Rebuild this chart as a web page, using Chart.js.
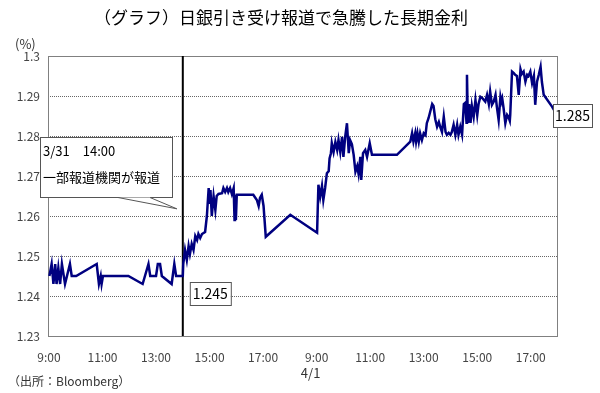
<!DOCTYPE html>
<html lang="ja">
<head>
<meta charset="UTF-8">
<title>長期金利</title>
<script src="https://cdn.jsdelivr.net/npm/chart.js@4/dist/chart.umd.min.js"></script>
<style>
    body { margin: 0; background: #fff; overflow: hidden; }
    #wrap { width: 600px; height: 393px; }
</style>
</head>
<body>
<div id="wrap"><canvas id="myChart" width="600" height="393"></canvas></div>
<script>
    // 3/31 (day 1)
    const day1Times = ['9:01','9:06','9:10','9:14','9:17','9:21','9:25','9:29','9:36','9:47','9:51','10:01',
        '10:47','10:52','10:56','10:58','11:01','11:58','12:30','12:43','12:47','13:00','13:04','13:09','13:13',
        '13:35','13:41','13:45','14:00','14:01','14:05','14:09','14:13','14:16','14:20','14:24','14:28','14:32',
        '14:35','14:39','14:43','14:50','14:54','14:58','15:00','15:02','15:05','15:09','15:13','15:16','15:20',
        '15:28','15:31','15:35','15:39','15:42','15:46','15:50','15:54','15:56','15:57','15:59','16:01','16:38',
        '16:46','16:50','16:53','16:57','17:01','17:06','18:01'];
    const day1Yields = [1.245,1.248,1.243,1.248,1.243,1.247,1.243,1.248,1.243,1.248,1.245,1.245,
        1.248,1.243,1.245,1.243,1.245,1.245,1.243,1.248,1.245,1.245,1.248,1.248,1.245,
        1.243,1.248,1.245,1.245,1.248,1.2515,1.249,1.2525,1.2505,1.253,1.2515,1.255,1.254,
        1.2555,1.2545,1.2555,1.256,1.26,1.267,1.263,1.2665,1.26,1.265,1.2615,1.265,1.2655,
        1.2657,1.267,1.266,1.267,1.266,1.267,1.2655,1.267,1.259,1.2653,1.259,1.2653,1.2653,
        1.264,1.2625,1.2645,1.2653,1.2625,1.2548,1.2603];

    // 4/1 (day 2)
    const day2Times = ['9:01','9:04','9:08','9:12','9:15','9:19','9:23','9:27','9:29','9:32','9:34','9:38',
        '9:42','9:46','9:49','9:53','9:57','10:00','10:04','10:08','10:12','10:15','10:19','10:23','10:27',
        '10:31','10:34','10:38','10:40','10:44','10:49','10:53','10:59','11:04','12:00','12:30','12:34','12:37',
        '12:41','12:43','12:46','12:49','12:52','12:56','13:00','13:04','13:07','13:11','13:19','13:22','13:26',
        '13:30','13:34','13:37','13:41','13:45','13:49','13:52','13:56','14:00','14:03','14:07','14:11','14:15',
        '14:18','14:22','14:26','14:30','14:33','14:36','14:37','14:39','14:42','14:45','14:48','14:52','14:56',
        '15:00','15:03','15:07','15:11','15:18','15:22','15:26','15:29','15:33','15:37','15:41','15:44','15:48',
        '15:52','15:54','15:56','15:59','16:03','16:07','16:10','16:13','16:14','16:18','16:22','16:25','16:29',
        '16:33','16:37','16:40','16:44','16:48','16:52','16:55','16:59','17:03','17:07','17:10','17:14','17:18',
        '17:22','17:25','17:29','17:48','17:52'];
    const day2Yields = [1.2558,1.2678,1.2648,1.2675,1.264,1.267,1.2707,1.2712,1.2744,1.2757,1.2782,1.276,
        1.2785,1.2765,1.279,1.276,1.2798,1.2748,1.2798,1.2832,1.2757,1.279,1.278,1.2753,1.2711,
        1.2725,1.2705,1.2748,1.269,1.2757,1.2765,1.2748,1.2782,1.2753,1.2753,1.2786,1.2807,1.2786,
        1.2807,1.2786,1.2807,1.2786,1.2807,1.279,1.2807,1.2802,1.2832,1.2845,1.288,1.2875,1.2842,
        1.2823,1.2835,1.2823,1.281,1.2848,1.281,1.2803,1.2808,1.2803,1.281,1.2828,1.2803,1.2828,
        1.2803,1.2823,1.2803,1.288,1.2883,1.2833,1.2953,1.2833,1.288,1.2833,1.2875,1.2848,1.289,
        1.2852,1.288,1.2898,1.2895,1.2886,1.2903,1.288,1.2911,1.2878,1.2886,1.2903,1.2873,1.284,
        1.2898,1.2886,1.2894,1.287,1.2832,1.2853,1.2848,1.2838,1.2853,1.2961,1.2957,1.2953,1.295,
        1.2903,1.2967,1.2955,1.2961,1.2936,1.2953,1.295,1.2961,1.2932,1.295,1.2878,1.2936,1.2953,
        1.2973,1.2935,1.2903,1.2873,1.2865];

    const xTickLabels = ['9:00','11:00','13:00','15:00','17:00','9:00','11:00','13:00','15:00','17:00'];
    const yTicks = [1.23,1.24,1.25,1.26,1.27,1.28,1.29,1.3];

    // overnight gap is squeezed: day 2 is drawn 10 hours after day 1
    const DAY2_SHIFT = 10;
    function toHour(t, shift) {
        const p = t.split(':');
        return +p[0] + p[1] / 60 + shift;
    }

    const points = [];
    day1Times.forEach((t, i) => points.push({ x: toHour(t, 0), y: day1Yields[i] }));
    day2Times.forEach((t, i) => points.push({ x: toHour(t, DAY2_SHIFT), y: day2Yields[i] }));

    const jp = '"Noto Sans CJK JP", "Noto Sans", sans-serif';

    function box(ctx, x, y, w, h) {
        ctx.fillStyle = '#fff';
        ctx.fillRect(x, y, w, h);
        ctx.strokeStyle = '#555';
        ctx.lineWidth = 1;
        ctx.strokeRect(x + 0.5, y + 0.5, w, h);
    }

    const decor = {
        id: 'decor',
        beforeDatasetsDraw(chart) {
            const { ctx, chartArea: a } = chart;
            ctx.save();
            ctx.strokeStyle = '#808080';
            ctx.lineWidth = 1;
            ctx.strokeRect(a.left + 0.5, a.top + 0.5, a.right - a.left, a.bottom - a.top);
            // report time 3/31 14:00
            const vx = chart.scales.x.getPixelForValue(toHour('14:00', 0));
            ctx.strokeStyle = '#000';
            ctx.lineWidth = 2;
            ctx.beginPath();
            ctx.moveTo(vx, a.top);
            ctx.lineTo(vx, a.bottom);
            ctx.stroke();
            ctx.restore();
        },
        afterDraw(chart) {
            const { ctx, chartArea: a } = chart;
            const xs = chart.scales.x, ys = chart.scales.y;
            ctx.save();
            ctx.fillStyle = '#000';
            ctx.textBaseline = 'middle';
            ctx.textAlign = 'center';
            ctx.font = '17px ' + jp;
            ctx.fillText('（グラフ）日銀引き受け報道で急騰した長期金利', 281, 18);

            ctx.font = '13px ' + jp;
            ctx.fillStyle = '#333';
            ctx.textAlign = 'left';
            ctx.fillText('(%)', 15, 44);
            ctx.font = '12px ' + jp;
            ctx.fillText('（出所：Bloomberg）', 8, 381);
            ctx.textAlign = 'center';
            ctx.font = '13px ' + jp;
            ctx.fillText('4/1', xs.getPixelForValue(toHour('9:00', DAY2_SHIFT)) - 6, 373);

            // callout
            const vx = xs.getPixelForValue(toHour('14:00', 0));
            box(ctx, 40, 137, 132, 60);
            ctx.beginPath();
            ctx.moveTo(118, 197.5);
            ctx.lineTo(vx - 6, ys.getPixelForValue(1.2618));
            ctx.lineTo(150, 197.5);
            ctx.closePath();
            ctx.fillStyle = '#fff';
            ctx.fill();
            ctx.strokeStyle = '#555';
            ctx.beginPath();
            ctx.moveTo(118, 197.5);
            ctx.lineTo(vx - 6, ys.getPixelForValue(1.2618));
            ctx.lineTo(150, 197.5);
            ctx.stroke();
            ctx.fillStyle = '#000';
            ctx.textAlign = 'left';
            ctx.font = '13px ' + jp;
            ctx.fillText('3/31　14:00', 43, 151);
            ctx.fillText('一部報道機関が報道', 43, 177);

            // value labels
            ctx.font = '14px ' + jp;
            const y0 = ys.getPixelForValue(1.245);
            box(ctx, vx + 7, y0 + 6, 41, 23);
            ctx.fillStyle = '#000';
            ctx.textAlign = 'center';
            ctx.fillText('1.245', vx + 27.5, y0 + 18);
            const y1 = ys.getPixelForValue(1.285);
            box(ctx, a.right - 4, y1 - 12, 39, 23);
            ctx.fillStyle = '#000';
            ctx.fillText('1.285', a.right + 15.5, y1);
            ctx.restore();
        }
    };

    const ctx = document.getElementById('myChart').getContext('2d');
    const myChart = new Chart(ctx, {
        type: 'line',
        data: {
            datasets: [{
                data: points,
                borderColor: '#000080',
                borderWidth: 2.5,
                pointRadius: 0,
                tension: 0,
                fill: false
            }]
        },
        options: {
            responsive: false,
            animation: false,
            events: [],
            layout: { padding: { top: 56, right: 43, left: 0, bottom: 0 } },
            plugins: { legend: { display: false }, title: { display: false }, tooltip: { enabled: false } },
            scales: {
                x: {
                    type: 'linear',
                    min: 8.964,
                    max: 27.98,
                    afterBuildTicks(axis) {
                        axis.ticks = xTickLabels.map((l, i) => ({ value: toHour(l, i < 5 ? 0 : DAY2_SHIFT) }));
                    },
                    afterFit(axis) { axis.height = 57; },
                    grid: { display: false, drawTicks: false },
                    border: { display: false },
                    ticks: {
                        autoSkip: false,
                        maxRotation: 0,
                        padding: 14,
                        color: '#444',
                        font: { size: 12, family: jp },
                        callback: (v, i) => xTickLabels[i]
                    }
                },
                y: {
                    min: 1.23,
                    max: 1.3,
                    afterBuildTicks(axis) {
                        axis.ticks = yTicks.map(v => ({ value: v }));
                    },
                    afterFit(axis) { axis.width = 48; },
                    grid: { color: '#666', drawTicks: false, lineWidth: 1 },
                    border: { display: false, dash: [1, 1] },
                    ticks: {
                        padding: 8,
                        color: '#444',
                        font: { size: 12, family: jp },
                        callback: v => String(+v.toFixed(2))
                    }
                }
            }
        },
        plugins: [decor]
    });
</script>
</body>
</html>
